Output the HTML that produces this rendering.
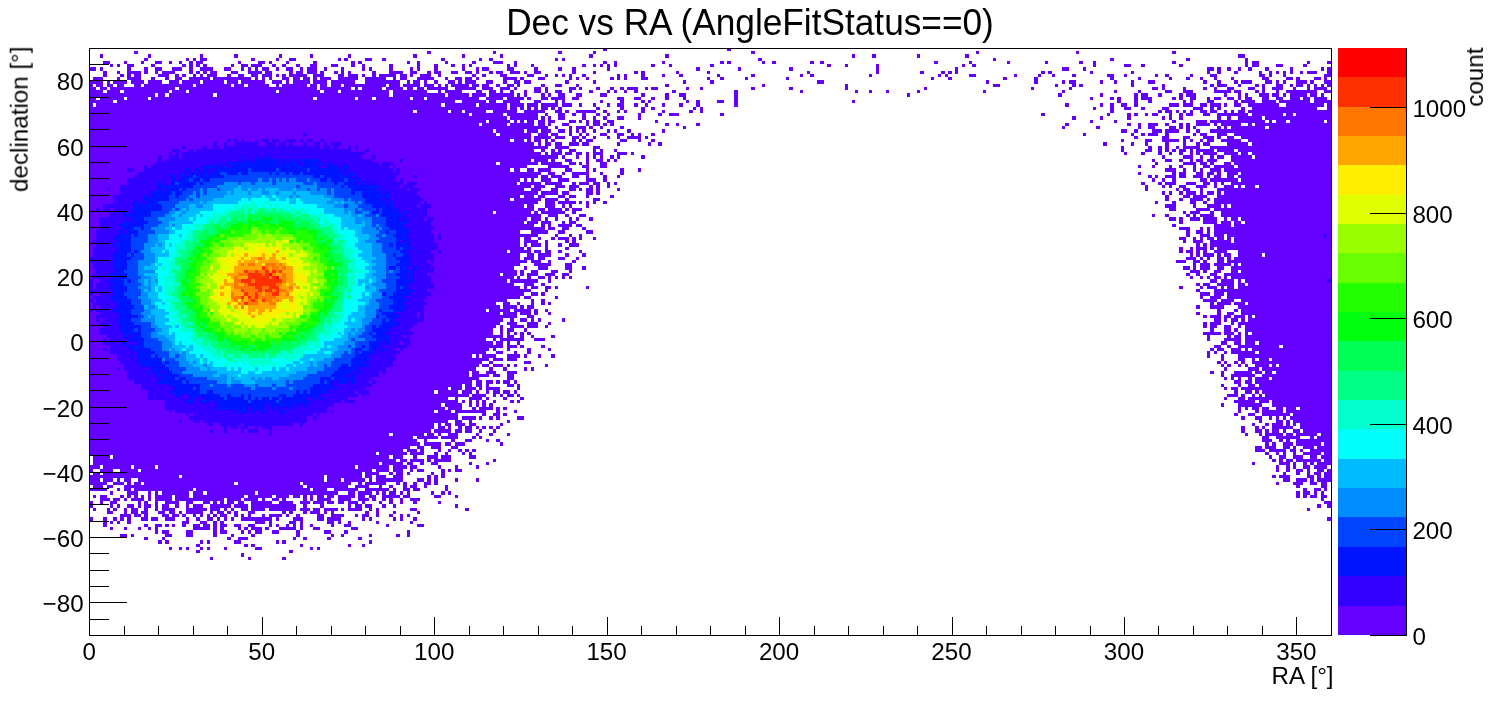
<!DOCTYPE html>
<html lang="en"><head><meta charset="utf-8"><title>Dec vs RA (AngleFitStatus==0)</title><style>html,body{margin:0;padding:0;background:#fff;overflow:hidden}svg{display:block}</style></head><body>
<svg width="1496" height="722" viewBox="0 0 1496 722">
<rect width="1496" height="722" fill="#fff"/>
<g fill="none" shape-rendering="crispEdges">
<path stroke="#6300ff" stroke-width="3" d="M603 49.5h4m120 0h4m-597 3h4m289 0h4m62 0h3m62 0h4m31 0h3m155 0h4m221 0h3m97 0h3m93 0h4m-1032 7h4m38 0h3m4 0h3m4 0h7m44 0h4m21 0h3m10 0h7m42 0h3m3 0h4m17 0h7m10 0h4m55 0h4m34 0h3m7 0h4m62 0h3m4 0h3m193 0h4m231 0h3m114 0h4m72 0h4m55 0h3m-1145 3h7m14 0h3m14 0h3m11 0h7m7 0h3m7 0h3m7 0h4m3 0h7m35 0h3m17 0h7m4 0h3m14 0h3m24 0h4m34 0h4m3 0h4m45 0h3m7 0h3m25 0h3m24 0h4m17 0h10m11 0h3m86 0h4m7 0h3m45 0h3m55 0h4m3 0h4m31 0h3m7 0h4m34 0h4m6 0h4m110 0h4m31 0h3m35 0h3m35 0h3m31 0h4m10 0h3m76 0h4m69 0h3m4 0h7m48 0h3m17 0h4m-1221 3h3m4 0h3m7 0h7m17 0h4m27 0h4m3 0h4m3 0h4m3 0h4m24 0h3m7 0h7m3 0h11m10 0h4m6 0h4m10 0h4m10 0h7m14 0h7m13 0h4m7 0h3m24 0h4m24 0h3m14 0h4m13 0h4m7 0h3m4 0h3m35 0h3m4 0h3m14 0h3m48 0h4m7 0h3m4 0h3m4 0h3m4 0h3m34 0h4m14 0h3m38 0h4m113 0h4m14 0h3m28 0h3m83 0h3m7 0h4m117 0h3m28 0h7m10 0h4m34 0h4m62 0h3m4 0h7m17 0h7m20 0h4m-1204 7h4m10 0h3m7 0h14m3 0h4m7 0h3m4 0h13m14 0h4m3 0h4m3 0h4m3 0h7m14 0h7m10 0h14m3 0h7m17 0h4m3 0h7m4 0h10m3 0h4m10 0h4m3 0h3m4 0h3m21 0h4m13 0h14m7 0h7m10 0h4m3 0h7m10 0h7m7 0h7m4 0h3m10 0h4m3 0h7m7 0h10m4 0h3m7 0h7m31 0h4m17 0h3m38 0h4m3 0h4m31 0h3m28 0h3m97 0h3m66 0h3m41 0h4m17 0h4m3 0h4m3 0h3m83 0h4m3 0h4m38 0h3m38 0h3m73 0h3m7 0h4m13 0h4m21 0h3m7 0h3m4 0h3m4 0h3m4 0h3m7 0h3m4 0h10m10 0h4m-1228 3h4m13 0h4m3 0h4m3 0h7m17 0h11m6 0h4m3 0h4m7 0h3m4 0h3m4 0h10m10 0h4m7 0h6m7 0h7m4 0h10m4 0h3m3 0h4m3 0h18m6 0h11m14 0h6m4 0h10m4 0h3m7 0h4m3 0h17m4 0h7m3 0h3m7 0h11m7 0h3m31 0h4m6 0h4m14 0h7m20 0h7m11 0h3m7 0h3m4 0h3m4 0h3m10 0h4m31 0h3m4 0h3m14 0h4m17 0h3m14 0h4m34 0h3m31 0h4m45 0h3m7 0h4m55 0h3m66 0h3m4 0h3m21 0h7m38 0h3m21 0h3m11 0h3m17 0h4m31 0h7m10 0h3m28 0h3m7 0h4m21 0h3m17 0h7m42 0h6m4 0h3m11 0h3m38 0h7m-1238 3h10m14 0h3m7 0h14m10 0h4m10 0h4m6 0h7m7 0h21m3 0h38m4 0h3m4 0h3m4 0h3m10 0h7m4 0h7m3 0h7m3 0h4m3 0h11m7 0h20m7 0h21m7 0h3m4 0h7m10 0h17m11 0h3m7 0h7m3 0h7m4 0h3m24 0h14m3 0h4m14 0h7m24 0h3m4 0h3m7 0h3m21 0h4m3 0h3m4 0h3m14 0h7m59 0h3m10 0h4m21 0h3m38 0h3m142 0h3m14 0h4m51 0h4m27 0h4m72 0h4m24 0h3m28 0h3m14 0h4m10 0h3m11 0h3m14 0h3m28 0h7m17 0h7m3 0h4m14 0h7m3 0h3m-1238 7h4m3 0h7m4 0h6m4 0h7m10 0h7m3 0h49m3 0h35m3 0h10m4 0h21m7 0h3m3 0h25m3 0h7m3 0h7m4 0h10m3 0h42m3 0h11m3 0h17m4 0h10m4 0h3m4 0h3m3 0h18m3 0h7m3 0h7m7 0h4m7 0h7m3 0h3m21 0h4m10 0h7m14 0h3m86 0h4m93 0h3m80 0h3m145 0h7m55 0h3m14 0h4m3 0h4m48 0h3m28 0h3m45 0h4m3 0h10m11 0h3m14 0h4m3 0h3m11 0h7m7 0h3m3 0h7m4 0h3m4 0h3m4 0h3m3 0h4m-1242 3h7m4 0h7m3 0h65m4 0h138m3 0h31m4 0h3m4 0h20m4 0h17m4 0h6m4 0h7m3 0h21m7 0h21m6 0h11m7 0h10m4 0h3m17 0h7m4 0h3m21 0h7m3 0h3m14 0h4m10 0h4m6 0h4m3 0h11m7 0h3m3 0h7m28 0h3m11 0h3m48 0h4m34 0h4m52 0h3m76 0h3m104 0h3m35 0h3m80 0h6m4 0h3m18 0h3m17 0h4m7 0h3m10 0h7m14 0h7m7 0h3m7 0h11m10 0h3m11 0h3m4 0h13m-1238 3h14m4 0h13m4 0h45m3 0h14m3 0h87m3 0h41m4 0h14m3 0h48m4 0h34m11 0h3m4 0h17m14 0h6m7 0h7m4 0h3m7 0h4m10 0h3m7 0h7m4 0h3m7 0h7m7 0h3m17 0h4m14 0h3m4 0h3m7 0h3m7 0h4m34 0h4m58 0h4m62 0h3m52 0h3m11 0h3m14 0h3m28 0h3m63 0h3m76 0h3m49 0h3m21 0h3m24 0h7m11 0h10m21 0h17m3 0h7m14 0h4m3 0h3m11 0h3m7 0h31m7 0h7m-1242 7h7m4 0h24m3 0h21m3 0h162m4 0h38m3 0h14m4 0h34m3 0h11m3 0h52m7 0h17m4 0h17m3 0h4m10 0h7m3 0h14m7 0h7m38 0h7m10 0h7m10 0h4m10 0h4m14 0h3m48 0h4m352 0h3m17 0h4m3 0h4m13 0h4m3 0h11m20 0h4m3 0h4m7 0h6m11 0h3m4 0h7m6 0h7m4 0h3m4 0h7m10 0h7m7 0h7m7 0h10m3 0h7m4 0h13m-1238 3h24m4 0h338m7 0h24m3 0h7m7 0h17m14 0h7m14 0h3m4 0h3m35 0h3m17 0h4m17 0h4m3 0h3m35 0h3m7 0h4m17 0h7m10 0h4m114 0h3m262 0h4m13 0h4m10 0h4m31 0h3m4 0h3m14 0h7m20 0h4m3 0h14m7 0h14m3 0h31m4 0h17m-1242 7h418m3 0h7m3 0h4m3 0h4m3 0h4m3 0h7m3 0h4m3 0h4m34 0h4m20 0h4m17 0h4m6 0h4m38 0h3m4 0h3m390 0h3m14 0h4m10 0h7m10 0h4m17 0h7m24 0h10m7 0h4m3 0h4m20 0h4m7 0h65m10 0h4m-1242 3h324m4 0h31m3 0h11m3 0h21m7 0h24m7 0h21m10 0h7m3 0h4m7 0h20m7 0h4m10 0h3m4 0h3m14 0h4m17 0h3m24 0h4m7 0h3m407 0h4m44 0h4m3 0h7m4 0h3m4 0h3m4 0h3m7 0h7m3 0h7m7 0h3m4 0h3m4 0h7m3 0h83m-1242 3h380m3 0h31m4 0h31m7 0h3m10 0h7m7 0h4m6 0h4m10 0h4m7 0h3m28 0h3m17 0h4m7 0h10m41 0h4m317 0h4m62 0h3m17 0h4m3 0h4m7 0h3m4 0h6m11 0h3m7 0h4m3 0h7m10 0h7m7 0h31m4 0h31m3 0h7m3 0h35m-1242 7h397m3 0h21m4 0h3m3 0h4m3 0h7m4 0h7m3 0h7m14 0h7m3 0h3m4 0h3m4 0h7m7 0h7m41 0h3m432 0h3m21 0h3m55 0h4m20 0h11m3 0h55m4 0h3m4 0h10m4 0h34m3 0h4m-1242 3h390m3 0h25m3 0h24m4 0h7m3 0h3m11 0h7m17 0h3m4 0h7m3 0h4m3 0h4m51 0h4m7 0h3m17 0h4m365 0h4m58 0h4m7 0h3m7 0h10m7 0h4m10 0h4m3 0h4m6 0h14m4 0h3m4 0h20m7 0h4m3 0h76m-1242 3h459m7 0h3m11 0h3m4 0h10m3 0h4m7 0h3m17 0h4m59 0h3m376 0h3m31 0h4m38 0h3m7 0h7m14 0h7m3 0h4m3 0h4m3 0h3m21 0h4m3 0h3m4 0h34m4 0h62m-1242 7h407m4 0h31m7 0h10m3 0h7m11 0h3m7 0h3m4 0h3m11 0h7m10 0h7m7 0h3m4 0h3m10 0h4m428 0h3m45 0h3m7 0h4m3 0h10m7 0h4m24 0h3m4 0h7m10 0h10m7 0h97m-1242 3h442m3 0h17m4 0h10m7 0h7m3 0h4m7 0h3m11 0h3m7 0h3m7 0h14m4 0h3m486 0h4m24 0h7m14 0h7m13 0h11m3 0h4m6 0h7m7 0h90m-1242 3h421m4 0h10m3 0h4m3 0h7m4 0h3m3 0h4m17 0h4m3 0h3m4 0h7m27 0h7m11 0h3m10 0h4m466 0h3m21 0h7m10 0h17m4 0h3m4 0h3m7 0h3m4 0h7m7 0h20m7 0h83m-1242 7h459m7 0h14m24 0h7m521 0h3m24 0h4m6 0h4m3 0h4m7 0h3m4 0h17m10 0h121m-1242 3h445m7 0h4m6 0h4m3 0h4m7 0h7m17 0h3m4 0h3m11 0h3m504 0h3m21 0h7m6 0h4m3 0h4m3 0h4m3 0h7m4 0h3m3 0h18m3 0h17m4 0h93m-1242 3h452m4 0h3m3 0h11m3 0h7m4 0h6m4 0h3m4 0h10m14 0h10m4 0h3m490 0h3m14 0h4m13 0h4m7 0h3m7 0h4m7 0h3m3 0h4m3 0h14m7 0h14m3 0h7m4 0h79m-1242 7h442m3 0h14m3 0h4m10 0h7m14 0h3m7 0h7m4 0h3m4 0h3m535 0h3m10 0h7m7 0h4m7 0h3m3 0h7m4 0h10m14 0h100m-1242 3h407m4 0h38m3 0h21m7 0h7m3 0h3m4 0h3m11 0h7m548 0h3m25 0h13m4 0h7m3 0h4m10 0h7m3 0h97m-1242 3h438m21 0h21m13 0h7m11 0h7m531 0h3m11 0h3m14 0h3m7 0h4m10 0h3m7 0h7m4 0h20m4 0h93m-1242 7h452m7 0h7m7 0h3m7 0h17m11 0h3m17 0h4m514 0h3m31 0h4m3 0h7m10 0h7m4 0h7m3 0h4m6 0h11m3 0h90m-1242 3h449m3 0h7m3 0h11m10 0h7m7 0h3m14 0h4m10 0h3m528 0h4m3 0h3m7 0h11m3 0h7m7 0h10m4 0h3m4 0h7m6 0h7m4 0h93m-1242 7h428m3 0h21m4 0h17m10 0h4m3 0h10m4 0h7m7 0h3m4 0h3m524 0h4m13 0h4m3 0h11m10 0h10m7 0h7m4 0h3m4 0h3m7 0h100m-1242 3h442m3 0h11m10 0h10m4 0h10m10 0h4m3 0h4m7 0h3m535 0h3m14 0h3m4 0h3m7 0h7m10 0h11m7 0h3m7 0h10m4 0h3m4 0h10m4 0h72m-1242 3h435m7 0h10m10 0h7m11 0h7m3 0h3m4 0h7m3 0h4m17 0h3m525 0h3m28 0h3m4 0h7m10 0h3m14 0h114m-1242 7h431m4 0h10m4 0h7m13 0h7m4 0h7m10 0h3m21 0h4m551 0h4m14 0h7m3 0h14m10 0h114m-1242 3h421m4 0h27m4 0h13m7 0h4m24 0h7m565 0h4m10 0h4m7 0h13m4 0h3m4 0h117m-1242 3h449m7 0h10m3 0h18m3 0h3m4 0h3m4 0h3m7 0h4m548 0h3m14 0h4m14 0h6m7 0h4m7 0h117m-1242 7h445m4 0h7m3 0h14m3 0h4m3 0h10m587 0h7m20 0h14m4 0h117m-1242 3h404m3 0h35m3 0h4m3 0h24m7 0h4m607 0h3m4 0h10m10 0h4m7 0h110m-1242 3h452m7 0h10m7 0h4m10 0h7m566 0h3m10 0h4m17 0h4m3 0h3m4 0h14m7 0h110m-1242 7h435m3 0h11m3 0h10m11 0h3m4 0h7m603 0h4m20 0h14m4 0h10m3 0h7m4 0h86m-1242 3h445m7 0h4m3 0h3m7 0h14m4 0h6m590 0h4m38 0h17m3 0h97m-1242 3h456m3 0h7m7 0h7m13 0h4m593 0h11m10 0h3m4 0h3m4 0h117m-1242 7h449m17 0h3m11 0h3m7 0h3m604 0h4m10 0h10m4 0h10m3 0h104m-1242 3h431m4 0h7m7 0h3m10 0h4m3 0h11m3 0h4m3 0h3m11 0h3m583 0h7m7 0h3m4 0h3m4 0h7m3 0h7m3 0h4m3 0h97m-1242 3h431m4 0h14m7 0h3m17 0h4m3 0h4m607 0h3m7 0h10m7 0h21m3 0h97m-1242 7h435m3 0h4m14 0h3m17 0h4m610 0h4m7 0h3m3 0h11m3 0h4m3 0h114m-1242 3h418m3 0h21m3 0h7m4 0h6m7 0h4m17 0h3m597 0h4m3 0h7m3 0h4m3 0h4m7 0h13m11 0h93m-1242 7h431m4 0h10m4 0h7m13 0h7m11 0h3m607 0h10m4 0h3m4 0h3m7 0h7m3 0h4m3 0h97m-1242 3h438m4 0h10m7 0h3m21 0h4m600 0h10m7 0h7m3 0h4m10 0h7m3 0h104m-1242 3h431m14 0h17m14 0h7m621 0h3m4 0h10m4 0h17m3 0h4m3 0h90m-1242 7h428m3 0h4m7 0h7m13 0h7m11 0h3m618 0h10m3 0h4m7 0h7m10 0h7m3 0h90m-1242 3h411m3 0h14m3 0h4m3 0h11m7 0h10m7 0h7m617 0h4m6 0h4m10 0h7m7 0h107m-1242 3h425m3 0h3m7 0h4m7 0h7m3 0h3m4 0h3m4 0h3m4 0h3m618 0h3m7 0h3m4 0h3m4 0h7m3 0h3m4 0h100m-1242 7h425m10 0h10m7 0h4m651 0h4m3 0h7m7 0h17m4 0h7m3 0h83m-1242 3h431m4 0h3m4 0h7m7 0h6m4 0h3m28 0h3m590 0h4m17 0h3m4 0h10m4 0h3m3 0h7m4 0h93m-1242 3h442m14 0h3m648 0h4m14 0h117m-1242 7h431m4 0h7m24 0h3m642 0h3m7 0h11m6 0h104m-1242 3h418m24 0h3m7 0h4m658 0h14m4 0h13m7 0h90m-1242 3h407m7 0h7m7 0h3m11 0h3m7 0h4m3 0h3m659 0h4m3 0h14m3 0h11m3 0h83m-1242 7h397m3 0h21m4 0h17m3 0h4m7 0h3m669 0h4m13 0h4m3 0h90m-1242 3h411m3 0h14m3 0h11m3 0h4m10 0h3m645 0h4m17 0h4m6 0h7m7 0h90m-1242 3h428m10 0h7m669 0h4m3 0h11m3 0h7m3 0h11m3 0h4m3 0h76m-1242 7h411m7 0h10m10 0h11m10 0h3m652 0h4m3 0h11m10 0h3m4 0h93m-1242 3h407m4 0h3m7 0h14m3 0h11m7 0h3m655 0h4m3 0h7m7 0h7m7 0h3m4 0h86m-1242 7h404m7 0h3m4 0h3m4 0h3m3 0h4m3 0h4m672 0h18m3 0h10m4 0h3m4 0h3m4 0h79m-1242 3h414m4 0h7m6 0h4m7 0h3m17 0h4m652 0h3m17 0h4m3 0h7m4 0h86m-1242 3h397m7 0h3m4 0h24m10 0h11m662 0h3m14 0h17m4 0h86m-1242 7h414m4 0h10m3 0h4m17 0h4m669 0h7m6 0h4m7 0h41m4 0h48m-1242 3h400m4 0h3m11 0h3m17 0h4m17 0h3m659 0h4m3 0h7m7 0h10m4 0h3m4 0h79m-1242 3h397m10 0h7m11 0h3m10 0h4m676 0h3m4 0h3m7 0h3m4 0h24m4 0h72m-1242 7h400m4 0h10m4 0h10m704 0h3m14 0h7m7 0h3m4 0h10m3 0h59m-1242 3h393m7 0h4m31 0h7m686 0h4m3 0h3m7 0h4m3 0h4m7 0h79m-1242 3h390m3 0h7m4 0h10m4 0h3m4 0h3m28 0h3m673 0h3m3 0h4m7 0h3m4 0h3m7 0h14m3 0h4m3 0h52m-1242 7h380m3 0h7m7 0h10m11 0h10m693 0h4m7 0h3m10 0h18m3 0h7m3 0h7m4 0h55m-1242 3h380m3 0h17m4 0h7m7 0h7m707 0h3m7 0h24m7 0h69m-1242 3h390m28 0h7m710 0h3m4 0h3m4 0h3m7 0h4m3 0h14m3 0h59m-1242 7h373m3 0h7m4 0h6m4 0h3m18 0h7m3 0h3m701 0h3m14 0h3m7 0h7m4 0h72m-1242 3h359m3 0h11m3 0h11m3 0h3m4 0h14m17 0h3m704 0h3m4 0h7m3 0h90m-1242 7h380m3 0h14m7 0h3m4 0h3m4 0h7m3 0h3m707 0h11m3 0h4m7 0h3m4 0h3m3 0h66m-1242 3h359m7 0h3m11 0h13m4 0h3m14 0h4m13 0h4m700 0h3m11 0h7m3 0h83m-1242 3h369m4 0h3m4 0h3m4 0h3m3 0h4m7 0h3m14 0h4m3 0h3m714 0h21m4 0h10m3 0h59m-1242 7h356m3 0h14m10 0h4m3 0h14m3 0h4m3 0h4m731 0h3m4 0h3m4 0h7m3 0h7m7 0h7m3 0h10m4 0h31m-1242 3h345m4 0h13m4 0h31m10 0h4m14 0h3m721 0h3m14 0h4m3 0h21m3 0h45m-1242 3h369m24 0h4m7 0h7m3 0h4m727 0h4m10 0h7m7 0h28m3 0h38m-1242 7h359m7 0h7m7 0h3m35 0h3m749 0h3m14 0h7m3 0h4m3 0h38m-1242 3h345m4 0h3m4 0h6m4 0h10m4 0h7m24 0h3m749 0h3m10 0h4m3 0h11m3 0h4m3 0h3m4 0h31m-1242 3h345m4 0h7m3 0h3m7 0h4m3 0h7m4 0h3m3 0h4m3 0h4m3 0h4m741 0h4m10 0h4m3 0h3m7 0h21m7 0h31m-1242 7h300m4 0h31m3 0h7m4 0h3m7 0h10m18 0h3m10 0h4m14 0h3m735 0h3m11 0h3m3 0h18m3 0h7m3 0h21m4 0h10m-1242 3h324m4 0h21m3 0h17m14 0h4m3 0h3m780 0h7m7 0h24m10 0h4m3 0h14m-1242 3h328m7 0h3m24 0h4m10 0h7m14 0h3m7 0h4m762 0h10m7 0h4m3 0h4m6 0h35m-1242 7h321m7 0h7m7 0h10m10 0h7m797 0h7m3 0h11m7 0h7m3 0h3m7 0h11m3 0h14m-1242 3h314m4 0h10m3 0h4m14 0h3m7 0h3m7 0h4m3 0h4m3 0h4m779 0h10m4 0h17m4 0h6m4 0h3m7 0h21m-1242 3h287m3 0h28m3 0h14m10 0h4m7 0h3m14 0h3m4 0h3m793 0h4m7 0h3m4 0h3m7 0h3m7 0h18m3 0h7m-1238 7h303m4 0h7m3 0h14m3 0h4m3 0h17m42 0h3m776 0h4m3 0h4m3 0h7m3 0h25m3 0h7m-1238 3h286m3 0h21m4 0h6m7 0h4m7 0h7m31 0h3m14 0h3m763 0h3m24 0h11m3 0h3m7 0h4m3 0h4m3 0h14m-1242 7h4m7 0h13m7 0h18m3 0h231m4 0h13m4 0h10m7 0h3m4 0h7m17 0h4m3 0h3m4 0h7m814 0h3m7 0h4m6 0h7m4 0h3m7 0h7m3 0h4m-1238 3h7m3 0h259m3 0h14m10 0h4m3 0h7m4 0h3m21 0h3m7 0h4m838 0h3m10 0h4m7 0h3m4 0h7m3 0h7m-1242 3h90m3 0h142m3 0h35m3 0h7m4 0h10m7 0h10m24 0h4m3 0h4m3 0h4m827 0h4m3 0h11m17 0h7m3 0h4m3 0h7m-1242 7h18m6 0h11m3 0h4m3 0h7m3 0h90m4 0h62m3 0h48m7 0h4m3 0h21m10 0h4m3 0h4m6 0h4m7 0h7m3 0h4m838 0h3m14 0h10m7 0h7m4 0h6m-1234 3h10m4 0h6m11 0h179m4 0h41m7 0h14m10 0h3m7 0h4m10 0h4m3 0h7m7 0h3m18 0h3m848 0h4m21 0h6m-1238 3h18m10 0h3m4 0h7m3 0h59m3 0h114m3 0h14m7 0h24m7 0h24m4 0h3m7 0h7m3 0h7m25 0h3m855 0h4m7 0h7m3 0h3m-1234 7h3m4 0h7m13 0h4m3 0h4m3 0h4m3 0h3m4 0h3m4 0h17m3 0h14m4 0h51m4 0h24m4 0h13m4 0h7m3 0h4m3 0h3m4 0h7m3 0h7m4 0h17m3 0h7m4 0h7m6 0h18m3 0h7m24 0h7m14 0h3m838 0h4m3 0h4m3 0h7m4 0h6m-1227 3h10m3 0h7m4 0h3m4 0h13m4 0h3m4 0h17m3 0h49m3 0h14m3 0h14m4 0h3m7 0h7m3 0h4m17 0h4m3 0h3m4 0h14m7 0h13m7 0h11m3 0h4m6 0h4m3 0h4m7 0h3m7 0h10m901 0h3m-1235 3h4m7 0h3m7 0h7m21 0h3m3 0h4m7 0h3m7 0h14m7 0h7m10 0h7m3 0h4m3 0h4m3 0h7m4 0h6m7 0h21m7 0h14m7 0h10m3 0h11m3 0h7m4 0h6m4 0h10m4 0h3m14 0h3m7 0h4m7 0h3m10 0h4m21 0h3m883 0h7m-1238 7h3m11 0h3m3 0h4m7 0h3m4 0h7m6 0h4m7 0h3m4 0h13m11 0h21m3 0h10m4 0h3m4 0h3m7 0h7m3 0h14m4 0h27m4 0h10m3 0h7m4 0h14m3 0h3m4 0h14m7 0h3m4 0h3m31 0h7m48 0h4m838 0h3m-1203 3h6m11 0h3m4 0h7m3 0h7m10 0h7m4 0h6m4 0h3m4 0h17m7 0h3m4 0h7m3 0h4m3 0h4m10 0h7m27 0h4m3 0h4m10 0h4m3 0h10m4 0h3m4 0h3m31 0h4m7 0h3m14 0h3m21 0h3m-300 3h11m3 0h7m3 0h4m14 0h7m3 0h7m3 0h4m7 0h3m4 0h3m4 0h3m3 0h4m3 0h7m7 0h4m3 0h3m4 0h3m11 0h3m4 0h13m4 0h3m7 0h4m17 0h7m7 0h13m11 0h3m4 0h7m7 0h3m10 0h4m7 0h3m4 0h3m-307 7h4m3 0h3m4 0h3m7 0h4m51 0h7m11 0h7m6 0h4m3 0h4m31 0h10m4 0h3m17 0h7m4 0h3m24 0h7m4 0h3m7 0h3m25 0h3m31 0h3m-310 3h4m37 0h4m7 0h7m3 0h4m3 0h3m7 0h4m7 0h7m3 0h7m3 0h4m3 0h7m7 0h7m7 0h7m14 0h3m4 0h3m7 0h3m4 0h3m4 0h3m7 0h3m18 0h3m10 0h7m35 0h3m28 0h7m-314 3h3m11 0h3m11 0h3m7 0h3m4 0h3m35 0h17m3 0h4m3 0h4m14 0h3m3 0h4m3 0h11m3 0h4m10 0h17m4 0h3m10 0h7m31 0h7m-238 7h7m4 0h3m31 0h7m14 0h7m20 0h4m14 0h3m17 0h4m41 0h4m31 0h3m7 0h3m25 0h3m24 0h4m7 0h3m-266 3h4m14 0h3m62 0h4m7 0h10m45 0h3m7 0h4m20 0h4m27 0h4m-166 7h4m44 0h4m3 0h4m45 0h3m45 0h3m11 0h3m-196 3h3m7 0h3m4 0h3m11 0h3m4 0h3m14 0h3m28 0h7m48 0h3m4 0h3m-124 3h4m89 0h4m-83 7h3m35 0h3m31 0h4"/>
<path stroke="#6300ff" stroke-width="4" d="M100 56h3m45 0h3m49 0h3m31 0h4m41 0h3m28 0h3m35 0h3m62 0h4m45 0h3m35 0h3m86 0h4m72 0h4m183 0h3m17 0h4m41 0h3m45 0h4m269 0h7m-1156 13h7m4 0h3m24 0h4m13 0h4m7 0h7m10 0h10m7 0h4m7 0h13m11 0h7m10 0h3m4 0h3m4 0h3m4 0h7m7 0h3m7 0h7m7 0h3m4 0h10m7 0h3m14 0h3m18 0h3m4 0h3m17 0h4m17 0h3m4 0h3m14 0h4m24 0h3m11 0h3m3 0h7m18 0h7m20 0h4m20 0h4m10 0h4m31 0h3m86 0h4m38 0h3m48 0h4m83 0h3m76 0h3m104 0h7m14 0h3m121 0h7m3 0h4m6 0h4m7 0h3m7 0h4m13 0h4m21 0h3m28 0h3m3 0h4m-1242 13h14m4 0h3m3 0h14m4 0h13m4 0h14m7 0h10m3 0h18m3 0h21m3 0h11m3 0h24m7 0h10m4 0h3m4 0h17m3 0h14m4 0h24m10 0h35m7 0h3m3 0h7m4 0h3m7 0h4m10 0h7m3 0h4m3 0h11m10 0h7m10 0h4m7 0h6m4 0h7m34 0h4m24 0h3m87 0h3m24 0h4m103 0h7m162 0h3m45 0h4m24 0h3m4 0h7m24 0h3m11 0h3m14 0h3m14 0h7m48 0h4m10 0h4m13 0h4m3 0h11m13 0h7m4 0h3m4 0h3m10 0h11m3 0h4m10 0h7m-1242 13h66m3 0h7m4 0h44m4 0h172m4 0h52m3 0h21m3 0h14m3 0h25m3 0h3m4 0h3m14 0h4m3 0h3m7 0h7m11 0h6m18 0h7m34 0h4m20 0h4m10 0h7m48 0h4m169 0h3m148 0h4m38 0h3m31 0h4m3 0h7m10 0h4m17 0h4m3 0h10m28 0h3m11 0h3m4 0h3m11 0h10m3 0h7m4 0h3m4 0h17m3 0h7m4 0h3m-1235 10h4m3 0h345m4 0h31m3 0h28m3 0h14m3 0h11m3 0h17m4 0h10m7 0h3m11 0h3m11 0h3m7 0h7m10 0h4m7 0h3m14 0h3m14 0h4m13 0h4m34 0h4m327 0h4m31 0h3m7 0h4m7 0h6m7 0h4m31 0h10m4 0h10m7 0h7m3 0h11m3 0h3m7 0h7m7 0h31m7 0h38m3 0h4m-1242 13h418m3 0h28m3 0h4m3 0h3m7 0h7m17 0h4m7 0h3m7 0h4m10 0h7m14 0h3m431 0h4m24 0h3m24 0h4m31 0h3m4 0h3m7 0h4m34 0h4m6 0h4m7 0h24m3 0h66m-1242 13h404m3 0h28m3 0h11m3 0h10m7 0h7m4 0h3m4 0h3m3 0h4m7 0h3m11 0h3m4 0h3m10 0h4m31 0h3m456 0h6m7 0h4m14 0h10m3 0h14m7 0h4m6 0h4m10 0h121m-1242 13h445m4 0h3m4 0h6m4 0h7m7 0h10m3 0h7m28 0h3m28 0h3m7 0h4m441 0h4m24 0h3m11 0h3m17 0h4m14 0h3m10 0h4m3 0h7m17 0h21m4 0h79m-1242 13h469m4 0h3m11 0h3m7 0h3m4 0h3m4 0h3m7 0h4m3 0h3m21 0h4m517 0h3m18 0h10m7 0h3m7 0h4m3 0h7m7 0h21m3 0h76m-1242 13h421m4 0h6m7 0h7m4 0h13m14 0h7m14 0h3m4 0h3m24 0h4m14 0h3m524 0h11m7 0h3m7 0h3m4 0h3m7 0h11m3 0h107m-1242 10h431m4 0h3m4 0h3m7 0h10m7 0h11m17 0h10m7 0h4m545 0h3m7 0h3m7 0h4m24 0h7m3 0h28m3 0h90m-1242 13h449m3 0h17m4 0h7m17 0h7m3 0h4m562 0h3m4 0h3m7 0h4m3 0h10m4 0h3m4 0h7m3 0h4m3 0h107m-1242 13h435m3 0h7m11 0h10m7 0h3m4 0h3m14 0h3m576 0h11m17 0h3m11 0h14m3 0h3m4 0h100m-1242 13h438m4 0h10m4 0h3m7 0h3m11 0h3m4 0h3m10 0h4m576 0h7m3 0h4m7 0h10m3 0h14m7 0h3m4 0h7m3 0h90m-1242 13h431m11 0h17m10 0h7m21 0h7m593 0h4m6 0h7m4 0h3m4 0h117m-1242 13h431m4 0h3m4 0h10m4 0h3m10 0h4m7 0h10m617 0h4m3 0h4m3 0h121m-1242 10h431m7 0h7m4 0h13m14 0h4m13 0h4m604 0h3m3 0h4m3 0h11m3 0h4m3 0h7m7 0h24m3 0h66m-1242 13h425m10 0h3m11 0h10m17 0h7m10 0h4m597 0h7m3 0h3m4 0h10m7 0h7m7 0h100m-1242 13h418m3 0h28m10 0h3m659 0h7m4 0h13m4 0h3m4 0h86m-1242 13h435m7 0h7m3 0h4m655 0h10m4 0h10m3 0h104m-1242 13h411m3 0h14m3 0h4m3 0h7m662 0h4m10 0h14m14 0h93m-1242 13h414m7 0h4m6 0h7m4 0h3m4 0h3m21 0h3m649 0h7m3 0h3m4 0h7m3 0h4m3 0h83m-1242 10h404m7 0h3m4 0h7m10 0h3m683 0h4m10 0h7m3 0h4m7 0h86m-1242 13h404m3 0h7m4 0h3m7 0h3m701 0h6m7 0h7m4 0h10m4 0h72m-1242 13h383m4 0h3m3 0h14m11 0h13m4 0h3m11 0h3m10 0h4m652 0h3m11 0h3m14 0h93m-1242 13h387m13 0h4m10 0h4m17 0h3m4 0h3m690 0h3m21 0h11m3 0h69m-1242 13h383m4 0h6m4 0h7m3 0h4m3 0h7m4 0h3m717 0h7m4 0h7m3 0h76m-1242 10h345m4 0h20m4 0h10m4 0h3m7 0h3m4 0h7m3 0h7m4 0h3m717 0h4m7 0h7m3 0h4m3 0h69m-1242 13h352m4 0h17m7 0h3m4 0h3m3 0h4m3 0h4m728 0h3m14 0h24m10 0h59m-1242 13h369m4 0h14m3 0h3m7 0h4m3 0h4m17 0h7m717 0h4m10 0h7m7 0h3m4 0h3m4 0h3m4 0h41m-1242 13h342m3 0h17m4 0h7m3 0h7m7 0h3m11 0h3m745 0h4m10 0h7m3 0h4m3 0h7m4 0h3m7 0h7m3 0h28m-1242 13h331m4 0h17m4 0h6m4 0h10m35 0h3m762 0h4m3 0h4m7 0h10m3 0h25m3 0h7m-1238 13h17m3 0h276m4 0h10m10 0h4m10 0h11m3 0h10m18 0h7m793 0h3m7 0h7m7 0h10m7 0h7m4 0h10m-1242 10h11m3 0h28m3 0h21m3 0h197m3 0h31m4 0h14m3 0h7m21 0h3m14 0h3m18 0h3m797 0h3m7 0h4m3 0h3m7 0h7m4 0h13m-1238 13h11m3 0h10m4 0h3m4 0h7m7 0h186m3 0h14m3 0h21m4 0h3m4 0h27m14 0h7m3 0h4m3 0h4m17 0h3m18 0h3m804 0h7m6 0h11m3 0h4m3 0h14m-1221 13h3m14 0h11m10 0h3m4 0h3m4 0h27m4 0h10m4 0h48m3 0h80m10 0h7m3 0h14m4 0h3m3 0h4m3 0h7m4 0h3m4 0h3m21 0h3m7 0h4m3 0h3m845 0h4m3 0h7m4 0h3m4 0h3m-1235 13h4m17 0h3m4 0h3m7 0h7m4 0h3m3 0h7m4 0h3m4 0h7m6 0h4m7 0h3m4 0h10m7 0h21m3 0h14m3 0h45m7 0h4m13 0h4m24 0h3m4 0h7m3 0h7m10 0h4m7 0h3m59 0h3m859 0h4m6 0h4m-1242 13h4m10 0h4m6 0h4m3 0h4m3 0h4m10 0h7m3 0h7m7 0h10m11 0h3m7 0h4m7 0h6m4 0h3m4 0h3m4 0h3m7 0h31m4 0h3m14 0h10m14 0h7m3 0h14m21 0h3m4 0h3m21 0h3m4 0h3m10 0h4m910 0h4m-1176 13h3m4 0h7m17 0h7m20 0h4m3 0h7m14 0h3m4 0h3m4 0h7m10 0h7m17 0h4m24 0h7m13 0h4m59 0h3m-252 10h4m3 0h4m31 0h3m4 0h3m24 0h7m35 0h3m3 0h4m83 0h3m-131 13h3"/>
<path stroke="#3300ff" stroke-width="3" d="M303 134.5h4m-80 6h4m3 0h4m3 0h3m11 0h3m4 0h7m3 0h7m7 0h10m4 0h3m4 0h6m7 0h4m-142 7h4m17 0h4m6 0h7m4 0h96m4 0h7m3 0h4m10 0h3m4 0h3m-186 3h7m10 0h4m3 0h155m14 0h4m-200 3h3m3 0h4m3 0h183m-207 7h4m3 0h207m28 0h3m-248 3h224m3 0h11m-249 3h4m3 0h238m4 0h3m-258 7h262m-266 3h262m17 0h4m-290 7h276m4 0h10m-297 3h280m3 0h10m-306 3h3m10 0h287m3 0h10m-307 7h307m-307 3h311m-311 3h307m4 0h3m-331 7h4m3 0h7m3 0h314m-317 3h317m-317 3h317m-327 7h331m-331 3h331m-331 3h334m-338 7h338m4 0h3m883 0h3m-1231 3h338m4 0h3m-348 3h341m-341 7h345m-345 3h338m7 0h3m-352 7h345m-345 3h338m4 0h3m-341 3h338m-335 7h338m-341 3h334m-334 3h338m-342 7h4m3 0h338m-345 3h4m3 0h338m-345 3h338m-334 7h334m-338 3h4m3 0h328m-331 3h334m-338 7h4m3 0h328m-324 3h317m3 0h4m-328 3h321m3 0h4m-324 7h317m-314 3h310m-313 7h313m-306 3h296m4 0h3m-307 3h4m3 0h300m-300 7h297m-304 3h4m3 0h286m4 0h3m-293 3h290m-283 7h279m-276 3h273m-269 3h269m-266 7h252m3 0h4m-259 3h252m-252 3h245m-231 7h231m-231 3h224m-217 7h210m4 0h3m-217 3h200m-183 3h176m3 0h11m-190 7h162m-158 3h3m3 0h152m4 0h3m-148 3h3m4 0h120m4 0h3m-141 7h3m11 0h7m3 0h104m-100 3h6m7 0h21m3 0h49m7 0h3m-79 3h3m4 0h7m3 0h7m7 0h3m4 0h10m-3 7h3"/>
<path stroke="#3300ff" stroke-width="4" d="M213 144h4m7 0h3m7 0h24m7 0h11m3 0h7m3 0h4m10 0h4m6 0h7m4 0h3m4 0h10m-183 13h4m7 0h10m3 0h180m10 0h4m-249 13h7m10 0h249m3 0h4m-273 10h269m4 0h3m-283 13h297m-314 13h314m3 0h11m-331 13h324m3 0h7m-338 13h335m-335 13h342m-345 10h341m-341 13h341m-345 13h4m7 0h331m896 0h4m-1242 13h4m7 0h331m-338 13h3m4 0h324m-328 13h4m3 0h321m-324 10h310m-307 13h297m3 0h7m-293 13h279m-279 13h3m4 0h262m-252 13h235m3 0h4m-228 10h207m3 0h11m-204 13h169m-145 13h118m6 0h4m-107 13h3m11 0h3m14 0h3m4 0h10m11 0h3"/>
<path stroke="#0014ff" stroke-width="4" d="M241 157h3m11 0h3m7 0h4m-83 13h3m7 0h4m3 0h7m3 0h128m3 0h4m-176 10h3m4 0h176m3 0h4m-211 13h231m4 0h3m-255 13h259m-262 13h269m3 0h4m-287 13h4m3 0h283m-297 13h4m3 0h290m-297 10h297m-297 13h294m6 0h4m-307 13h303m-300 13h297m-293 13h290m-290 13h276m-273 10h269m-265 13h3m11 0h244m4 0h3m-258 13h3m4 0h231m-218 13h207m-200 13h176m4 0h10m3 0h4m-183 10h155m-110 13h48m4 0h24m3 0h4m3 0h4"/>
<path stroke="#0014ff" stroke-width="3" d="M241 160.5h3m4 0h3m4 0h24m3 0h4m3 0h7m4 0h20m-103 3h3m7 0h52m3 0h18m3 0h14m3 0h4m3 0h4m-128 3h14m3 0h7m4 0h89m7 0h11m3 0h7m-166 7h4m3 0h7m4 0h7m3 0h134m4 0h7m-183 3h3m7 0h169m4 0h3m-200 7h4m10 0h186m4 0h3m4 0h3m-214 3h221m-221 3h4m3 0h211m3 0h3m-238 7h4m3 0h238m-245 3h238m4 0h3m-255 3h4m3 0h3m4 0h238m3 0h4m-259 7h259m3 0h4m-276 3h3m4 0h269m3 0h4m-283 3h279m-279 7h7m3 0h273m-287 3h283m-279 3h283m-290 7h290m-294 3h297m-293 3h283m3 0h7m-293 7h296m-296 3h290m10 0h3m-307 7h297m-297 3h297m-297 3h297m-293 7h296m-303 3h297m3 0h3m-300 3h294m3 0h3m-300 7h297m-300 3h297m-294 3h300m-303 7h293m-290 3h294m-290 3h286m-290 7h290m-286 3h279m-276 3h280m-280 7h280m-280 3h273m-269 7h262m-262 3h3m4 0h258m-262 3h262m-262 7h252m-248 3h245m3 0h7m-248 3h238m-238 7h231m-231 3h227m-224 3h228m-221 7h3m4 0h7m3 0h186m4 0h7m-207 3h193m3 0h4m-193 3h193m-186 7h165m-159 3h156m3 0h4m-163 7h7m7 0h131m-131 3h7m7 0h104m6 0h4m3 0h4m-138 3h7m7 0h10m3 0h97m-97 7h4m3 0h28m3 0h14m7 0h4m3 0h3m7 0h4m-55 3h10m3 0h4m7 0h3m14 0h7"/>
<path stroke="#0044ff" stroke-width="4" d="M248 170h3m25 0h3m28 0h3m-121 10h4m7 0h3m7 0h110m7 0h4m13 0h4m-176 13h3m7 0h169m4 0h7m-200 13h210m-228 13h242m-248 13h248m3 0h7m-265 13h258m4 0h3m-269 10h4m3 0h259m3 0h7m-276 13h262m7 0h4m-276 13h3m4 0h265m-272 13h258m4 0h7m-259 13h255m-258 13h251m4 0h3m-255 10h4m3 0h231m-228 13h225m-218 13h4m3 0h197m-186 13h169m-156 13h4m3 0h131m4 0h3m-127 10h7m6 0h83m4 0h3m4 0h3"/>
<path stroke="#0044ff" stroke-width="3" d="M220 173.5h7m11 0h3m7 0h21m3 0h4m3 0h7m3 0h4m7 0h3m-110 3h3m28 0h89m7 0h4m-149 7h4m17 0h4m3 0h131m4 0h6m-151 3h148m3 0h4m-169 3h3m4 0h165m-182 7h6m4 0h183m-193 3h196m-207 3h207m-203 7h214m3 0h3m-231 3h221m7 0h3m-231 3h228m-231 7h238m-242 3h242m-252 3h7m3 0h245m-258 7h3m4 0h255m-262 3h265m-265 3h265m-265 7h265m4 0h3m-272 3h3m4 0h262m-269 7h265m-269 3h273m-273 3h269m-272 7h276m-273 3h269m-269 3h273m-276 7h272m-269 3h269m4 0h3m-276 3h269m-269 7h262m-258 3h262m-262 3h262m-262 7h248m3 0h11m-262 3h251m-244 3h238m3 0h7m-252 7h248m-241 3h231m4 0h3m-238 7h228m3 0h4m-235 3h231m-228 3h232m-232 7h218m3 0h4m-218 3h204m7 0h7m-214 3h200m3 0h4m-200 7h189m-189 3h3m4 0h182m-186 3h176m7 0h3m-179 7h162m-155 3h152m-156 3h4m7 0h134m11 0h3m-134 7h113m-120 3h3m4 0h110m-90 7h7m4 0h10m3 0h4m3 0h28m7 0h7m-69 3h3m17 0h4m3 0h4m3 0h4m7 0h3m7 0h3m-34 3h3m25 0h3"/>
<path stroke="#008bff" stroke-width="4" d="M258 180h4m7 0h3m4 0h3m3 0h4m3 0h7m11 0h3m-117 13h3m4 0h3m4 0h120m4 0h3m-159 13h169m4 0h10m-200 13h214m-217 13h224m-235 13h238m-238 10h242m-248 13h248m-248 13h244m-241 13h241m-238 13h235m-238 13h231m-217 10h210m-203 13h193m-186 13h6m4 0h162m-155 13h138m-107 13h69m3 0h4"/>
<path stroke="#008bff" stroke-width="3" d="M224 183.5h14m3 0h10m4 0h17m4 0h27m10 0h4m-100 3h79m4 0h17m-117 3h3m4 0h10m3 0h87m3 0h7m3 0h7m4 0h3m-145 7h7m4 0h134m-148 3h3m4 0h151m4 0h3m-172 3h176m3 0h4m-190 7h3m4 0h176m3 0h4m-193 3h186m7 0h7m-204 3h200m11 0h3m-217 7h210m-214 3h214m4 0h3m-228 3h225m3 0h3m-234 7h228m6 0h4m-238 3h231m-231 3h228m-232 7h238m-241 3h241m-238 7h242m-248 3h248m-248 3h248m-248 7h248m3 0h4m-255 3h248m-245 3h245m-245 7h245m-248 3h248m-245 3h238m-241 7h244m-241 3h235m-235 3h238m-235 7h232m-235 3h235m-232 3h232m-225 7h218m-218 3h214m-214 7h211m-211 3h207m-200 3h193m4 0h10m-203 7h186m3 0h4m-193 3h189m-182 3h175m4 0h3m-189 7h3m10 0h159m-155 3h152m-152 3h145m3 0h4m-149 7h135m-124 3h114m-100 3h96m-93 7h3m14 0h4m13 0h11m3 0h14m4 0h10m-35 3h4m17 0h4m13 0h4"/>
<path stroke="#00bbff" stroke-width="3" d="M238 186.5h3m-7 3h7m7 0h3m7 0h4m3 0h14m14 0h3m-72 7h65m4 0h3m4 0h24m-111 3h118m-131 3h3m4 0h120m7 0h4m3 0h3m-162 7h4m3 0h155m-169 3h7m4 0h158m4 0h3m-179 3h7m3 0h169m7 0h4m-193 7h186m7 0h3m-196 3h3m3 0h190m-200 3h197m-204 7h211m-211 3h211m-211 3h207m-214 7h221m-221 3h221m-217 7h221m-221 3h217m-221 3h225m-221 7h221m-232 3h228m-221 3h225m-232 7h4m3 0h221m-221 3h214m4 0h7m-232 3h4m3 0h225m-228 7h224m-221 3h218m-218 3h218m-218 7h214m-214 3h214m-217 3h3m4 0h210m-210 7h207m-204 3h204m-204 7h190m3 0h4m-190 3h183m-179 3h179m-176 7h166m-169 3h3m3 0h163m-159 3h3m4 0h148m-148 7h138m-135 3h4m3 0h114m3 0h4m-124 3h10m4 0h103m3 0h4m-100 7h79m-83 3h7m7 0h62m-62 3h4m3 0h17m4 0h3m4 0h3m7 0h7"/>
<path stroke="#00bbff" stroke-width="4" d="M227 193h4m3 0h14m3 0h11m7 0h7m3 0h14m3 0h14m-121 13h7m7 0h131m-159 13h180m-186 13h193m-207 13h3m4 0h210m-217 10h217m-228 13h228m-228 13h4m3 0h4m3 0h218m-228 13h224m-228 13h4m7 0h210m-210 13h207m-200 10h189m4 0h3m-186 13h172m-158 13h145m-131 13h7m3 0h97m-80 13h4m10 0h14"/>
<path stroke="#00fffc" stroke-width="3" d="M262 196.5h3m7 0h4m-35 3h7m3 0h18m7 0h3m7 0h3m7 0h4m-62 3h51m7 0h7m-90 7h111m-124 3h124m-128 3h4m3 0h131m-141 7h148m-159 3h159m-169 3h3m7 0h159m3 0h4m-179 7h10m3 0h173m-186 3h189m-193 3h193m-193 7h193m-196 3h3m4 0h193m-204 7h204m-204 3h207m-210 3h3m4 0h207m-214 7h214m-211 3h207m-207 3h207m-207 7h200m4 0h3m-210 3h3m4 0h203m-210 3h3m4 0h203m-207 7h204m-200 3h196m-203 3h7m3 0h200m-200 7h193m-189 3h182m-186 3h183m-183 7h179m-172 3h3m4 0h169m-179 7h3m3 0h163m3 0h3m-169 3h166m-166 3h159m-148 7h3m4 0h131m3 0h4m-149 3h4m7 0h127m-131 3h128m7 0h7m-131 7h3m4 0h93m10 0h3m-113 3h3m4 0h3m3 0h80m7 0h3m-90 3h73m7 0h3m-55 7h7m7 0h7m-24 3h3"/>
<path stroke="#00fffc" stroke-width="4" d="M213 206h104m-128 13h4m3 0h145m-166 13h180m-190 13h4m3 0h183m-186 10h189m-200 13h207m-207 13h200m11 0h3m-214 13h204m3 0h4m-211 13h200m-189 13h179m3 0h4m-186 10h175m-169 13h4m3 0h142m-128 13h4m3 0h100m-76 13h4m3 0h4m3 0h14m3 0h14m4 0h3m7 0h3"/>
<path stroke="#00ffcc" stroke-width="3" d="M251 202.5h4m10 0h4m-42 7h4m3 0h52m3 0h7m4 0h3m4 0h3m-97 3h4m7 0h83m-94 3h104m3 0h4m-117 7h113m4 0h7m-138 3h141m-148 3h3m7 0h142m-152 7h158m-165 3h3m4 0h158m-162 3h166m-173 7h176m-176 3h180m-183 7h183m-190 3h4m3 0h183m-186 3h186m-186 7h193m-193 3h179m3 0h4m-190 3h190m-190 7h4m3 0h183m-190 3h186m-186 3h186m-179 7h179m-186 3h179m-172 3h172m-175 7h175m-169 3h169m-172 3h172m-172 7h3m4 0h159m-156 3h152m-141 7h138m-142 3h131m4 0h3m-134 3h127m-120 7h110m3 0h7m-117 3h104m3 0h3m-103 3h83m3 0h7m-103 7h3m4 0h3m7 0h3m7 0h45m14 0h7m-66 3h4m3 0h4m3 0h3m4 0h24m4 0h3m-55 3h3m24 0h7m4 0h3m7 0h4"/>
<path stroke="#00ffcc" stroke-width="4" d="M234 206h4m3 0h17m4 0h3m4 0h3m4 0h3m7 0h3m-82 13h113m4 0h3m-138 13h149m-163 13h173m-179 10h3m3 0h176m-189 13h3m4 0h186m-190 13h4m3 0h183m-190 13h186m-182 13h175m-169 13h166m-162 10h152m3 0h4m-142 13h124m-107 13h83m4 0h3"/>
<path stroke="#00ff85" stroke-width="3" d="M241 209.5h3m4 0h3m7 0h7m7 0h4m3 0h3m-51 3h13m4 0h3m4 0h34m7 0h4m-73 3h69m4 0h10m-100 7h3m4 0h100m-114 3h117m11 0h3m-131 3h128m-138 7h145m-145 3h141m-148 3h3m4 0h141m4 0h6m-158 7h158m-165 3h165m-169 7h173m-173 3h176m-176 3h173m-176 7h179m-176 3h173m-173 3h173m-169 7h169m-173 3h173m-173 3h169m4 0h3m-176 7h169m4 0h3m-172 3h165m-172 3h169m-162 7h162m-162 3h155m-155 3h3m4 0h152m-156 7h4m7 0h131m3 0h4m-145 3h138m-131 7h124m-121 3h121m-124 3h3m7 0h114m-104 7h87m-83 3h76m-76 3h3m4 0h58m7 0h4m-66 7h4"/>
<path stroke="#00ff85" stroke-width="4" d="M220 219h7m4 0h82m4 0h3m-127 13h141m-148 13h155m-159 10h162m-165 13h169m-173 13h173m-176 13h172m-169 13h166m-159 13h149m-138 10h131m-121 13h4m3 0h97m-83 13h3m7 0h7m7 0h17m4 0h7"/>
<path stroke="#00ff55" stroke-width="3" d="M258 212.5h4m-21 3h3m4 0h34m4 0h3m-62 7h69m4 0h10m-97 3h7m4 0h89m-100 3h104m-117 7h127m-127 3h134m-141 3h3m4 0h134m-141 7h145m-149 3h145m-148 7h155m-162 3h165m-162 3h162m-162 7h162m-165 3h159m3 0h3m-165 3h165m-162 7h162m-165 3h159m-159 3h159m-159 7h159m-156 3h156m-156 3h152m-148 7h145m-142 3h138m-138 3h138m-134 7h131m-131 3h124m-117 7h3m4 0h106m-106 3h103m-100 3h97m-94 7h4m3 0h73m-66 3h4m3 0h48m4 0h3m-45 3h7m4 0h3m4 0h3m7 0h4"/>
<path stroke="#00ff55" stroke-width="4" d="M231 219h7m3 0h3m4 0h45m3 0h4m-97 13h4m6 0h111m-131 13h138m-142 10h152m-159 13h159m3 0h4m-169 13h165m-165 13h162m-155 13h148m-145 13h135m-128 10h117m-96 13h76m3 0h4"/>
<path stroke="#00ff0e" stroke-width="4" d="M248 219h3m11 0h10m7 0h3m-62 13h97m-114 13h124m-134 10h138m-142 13h145m-152 13h4m3 0h149m-156 13h149m-142 13h142m-135 13h124m-117 10h107m-79 13h41m4 0h3"/>
<path stroke="#00ff0e" stroke-width="3" d="M238 222.5h3m7 0h14m3 0h4m10 0h14m-62 3h62m-76 3h3m7 0h69m4 0h7m-94 7h104m-110 3h110m3 0h4m-124 3h117m10 0h4m-135 7h135m-138 3h3m4 0h127m-138 7h138m4 0h3m-141 3h141m-145 3h152m-155 7h152m-152 3h152m-152 3h152m-156 7h156m-152 3h148m-148 3h148m-145 7h149m-145 3h134m4 0h3m-148 3h148m-141 7h134m-131 3h124m4 0h3m-131 3h124m-124 7h4m3 0h114m-117 3h3m4 0h106m-100 7h87m-83 3h76m7 0h3m-86 3h7m3 0h69m-65 7h3m7 0h7m7 0h17m-31 3h3m7 0h4m3 0h7"/>
<path stroke="#22ff00" stroke-width="3" d="M258 222.5h4m-18 3h4m3 0h4m7 0h7m7 0h3m-52 3h4m10 0h7m3 0h35m7 0h3m-76 7h11m3 0h79m-100 3h100m-103 3h7m3 0h97m-114 7h117m4 0h3m-124 3h124m-134 7h3m4 0h127m-131 3h131m-138 3h4m3 0h131m-131 7h131m-138 3h135m7 0h3m-141 3h134m7 0h4m-149 7h142m-142 3h142m-138 3h138m-138 7h138m-135 3h128m-128 3h128m-124 7h120m-120 3h117m-117 3h110m-103 7h96m4 0h10m-110 3h93m3 0h4m-83 7h55m3 0h4m10 0h4m-76 3h58m4 0h7m-62 3h51m-27 7h3"/>
<path stroke="#22ff00" stroke-width="4" d="M231 232h58m7 0h11m-97 13h107m-117 10h124m-128 13h138m-145 13h138m4 0h3m-148 13h3m4 0h131m-131 13h7m3 0h121m-114 13h103m-100 10h83m-48 13h7m14 0h3m4 0h3"/>
<path stroke="#69ff00" stroke-width="3" d="M251 228.5h7m21 0h3m-62 7h4m20 0h49m-66 3h69m-76 3h69m4 0h3m4 0h3m-93 7h93m4 0h6m-100 3h100m-106 7h106m4 0h3m-117 3h4m3 0h110m-117 3h121m-124 7h124m-124 3h124m-128 3h128m-124 7h124m-128 3h131m-127 3h120m-120 7h124m-124 3h117m3 0h4m-124 3h113m-110 7h4m3 0h107m-110 3h3m3 0h97m-103 3h93m7 0h3m-90 7h80m-80 3h69m4 0h3m-69 7h4m3 0h45m3 0h4m-45 3h10m4 0h10m4 0h13m-31 3h4m7 0h3"/>
<path stroke="#69ff00" stroke-width="4" d="M231 232h3m17 0h11m3 0h4m7 0h3m-66 13h7m4 0h86m-107 10h4m3 0h110m-120 13h127m4 0h3m-138 13h131m-131 13h124m-117 13h110m-103 13h97m-90 10h3m4 0h65m4 0h3"/>
<path stroke="#99ff00" stroke-width="4" d="M251 232h4m-21 13h7m3 0h56m-80 10h90m-100 13h107m-117 13h124m-114 13h110m-110 13h93m4 0h3m-90 13h76m-62 10h14m3 0h11m3 0h11"/>
<path stroke="#99ff00" stroke-width="3" d="M258 235.5h4m3 0h7m-34 3h3m14 0h21m6 0h11m-62 3h58m-69 7h83m-90 3h94m-100 7h3m3 0h94m3 0h3m-100 3h97m-100 3h107m-110 7h110m-117 3h3m4 0h117m-121 3h114m-114 7h110m7 0h4m-124 3h120m-120 3h7m3 0h107m-110 7h110m-110 3h103m-103 3h103m-100 7h100m-103 3h3m3 0h90m4 0h3m-97 3h87m-80 7h4m10 0h45m3 0h4m-55 3h3m7 0h48m-55 7h4m3 0h3m7 0h7m11 0h3m-31 3h3"/>
<path stroke="#e0ff00" stroke-width="3" d="M276 241.5h3m3 0h7m-55 7h10m4 0h34m4 0h3m-62 3h69m4 0h3m-86 7h83m-83 3h86m-83 3h90m-93 7h93m3 0h4m-110 3h3m3 0h97m-100 3h97m-100 7h3m7 0h93m-103 3h3m7 0h86m4 0h3m3 0h4m-104 3h97m-100 7h90m3 0h4m-94 3h94m-90 3h83m3 0h4m-97 7h3m4 0h14m3 0h69m-83 3h66m3 0h4m3 0h7m-79 3h3m4 0h62m3 0h4m-66 7h7m3 0h25m3 0h7m-38 3h3m4 0h3m4 0h10"/>
<path stroke="#e0ff00" stroke-width="4" d="M244 245h21m4 0h3m4 0h6m-55 10h4m3 0h55m4 0h14m-97 13h3m7 0h83m-90 13h94m6 0h4m-104 13h94m3 0h3m-93 13h7m4 0h72m-76 13h4m7 0h34m4 0h6"/>
<path stroke="#ffee00" stroke-width="4" d="M269 245h3m-38 10h7m3 0h32m6 0h4m-55 13h65m-72 13h72m4 0h7m-90 13h79m-62 13h48m7 0h7m-41 13h7m3 0h4"/>
<path stroke="#ffee00" stroke-width="3" d="M234 248.5h4m20 0h7m7 0h10m-38 3h4m7 0h10m11 0h3m-52 7h4m3 0h52m7 0h3m-72 3h3m4 0h58m-62 3h62m4 0h7m-83 7h7m3 0h69m-76 3h83m-76 3h80m-90 7h79m-76 3h80m7 0h3m-97 3h4m3 0h76m4 0h3m4 0h3m-97 7h4m3 0h76m-76 3h4m3 0h59m3 0h7m-69 3h55m4 0h10m-58 7h51m4 0h3m-65 3h3m7 0h38m-38 3h3m4 0h10m4 0h3m4 0h7m3 0h3m4 0h3"/>
<path stroke="#ffa700" stroke-width="3" d="M276 251.5h3m-38 7h3m7 0h14m4 0h7m6 0h4m-48 3h3m3 0h11m3 0h21m-41 3h24m3 0h21m-52 7h59m-66 3h66m-62 3h62m-69 7h62m3 0h7m-76 3h4m7 0h62m3 0h4m-69 3h62m-62 7h62m-62 3h7m3 0h41m7 0h4m-66 3h4m7 0h38m-28 7h7m3 0h7m4 0h3m-24 3h3m7 0h4m-11 3h4"/>
<path stroke="#ffa700" stroke-width="4" d="M244 255h4m14 0h3m7 0h4m-42 13h59m-69 13h3m7 0h59m-73 13h4m7 0h58m-55 13h4m3 0h3m4 0h28"/>
<path stroke="#ff7700" stroke-width="3" d="M258 258.5h4m-21 6h3m4 0h7m10 0h11m3 0h3m-38 7h25m3 0h10m-44 3h38m6 0h4m-52 3h4m10 0h31m3 0h4m-52 7h4m6 0h38m-48 3h45m10 0h4m-52 3h45m-55 7h13m4 0h28m-42 3h4m3 0h3m4 0h10m4 0h10m4 0h3m-41 3h3m3 0h14m11 0h7"/>
<path stroke="#ff7700" stroke-width="4" d="M262 268h7m3 0h7m3 0h4m-52 13h52m-55 13h3m10 0h18m3 0h14m7 0h3m-48 13h3"/>
<path stroke="#ff3000" stroke-width="4" d="M262 268h3m-24 13h10m4 0h27m-38 13h4m7 0h3m14 0h7"/>
<path stroke="#ff3000" stroke-width="3" d="M244 271.5h4m7 0h3m7 0h4m3 0h4m3 0h3m-34 3h14m3 0h7m-24 3h21m3 0h7m-31 7h28m-21 3h7m7 0h10m-38 3h3m14 0h4m3 0h7m4 0h3m-38 7h3m4 0h3m4 0h3m-7 3h4m7 0h3m-21 3h4"/>
<path stroke="#ff0000" stroke-width="3" d="M269 274.5h3m4 3h3"/>
</g>
<g shape-rendering="crispEdges">
<rect x="1338" y="606" width="69" height="29" fill="#6300ff"/>
<rect x="1338" y="576" width="69" height="30" fill="#3300ff"/>
<rect x="1338" y="547" width="69" height="29" fill="#0014ff"/>
<rect x="1338" y="517" width="69" height="30" fill="#0044ff"/>
<rect x="1338" y="488" width="69" height="29" fill="#008bff"/>
<rect x="1338" y="459" width="69" height="29" fill="#00bbff"/>
<rect x="1338" y="429" width="69" height="30" fill="#00fffc"/>
<rect x="1338" y="400" width="69" height="29" fill="#00ffcc"/>
<rect x="1338" y="371" width="69" height="29" fill="#00ff85"/>
<rect x="1338" y="341" width="69" height="30" fill="#00ff55"/>
<rect x="1338" y="312" width="69" height="29" fill="#00ff0e"/>
<rect x="1338" y="283" width="69" height="29" fill="#22ff00"/>
<rect x="1338" y="253" width="69" height="30" fill="#69ff00"/>
<rect x="1338" y="224" width="69" height="29" fill="#99ff00"/>
<rect x="1338" y="195" width="69" height="29" fill="#e0ff00"/>
<rect x="1338" y="165" width="69" height="30" fill="#ffee00"/>
<rect x="1338" y="136" width="69" height="29" fill="#ffa700"/>
<rect x="1338" y="107" width="69" height="29" fill="#ff7700"/>
<rect x="1338" y="77" width="69" height="30" fill="#ff3000"/>
<rect x="1338" y="48" width="69" height="29" fill="#ff0000"/>
</g>
<path d="M89.5 48.5H1331.5V635.5H89.5ZM89.5 635.5v-19M124.5 635.5v-10M158.5 635.5v-10M193.5 635.5v-10M227.5 635.5v-10M262.5 635.5v-19M296.5 635.5v-10M331.5 635.5v-10M365.5 635.5v-10M400.5 635.5v-10M434.5 635.5v-19M469.5 635.5v-10M503.5 635.5v-10M538.5 635.5v-10M572.5 635.5v-10M607.5 635.5v-19M641.5 635.5v-10M676.5 635.5v-10M710.5 635.5v-10M745.5 635.5v-10M779.5 635.5v-19M814.5 635.5v-10M848.5 635.5v-10M883.5 635.5v-10M917.5 635.5v-10M952.5 635.5v-19M986.5 635.5v-10M1021.5 635.5v-10M1055.5 635.5v-10M1090.5 635.5v-10M1124.5 635.5v-19M1158.5 635.5v-10M1193.5 635.5v-10M1227.5 635.5v-10M1262.5 635.5v-10M1296.5 635.5v-19M1331.5 635.5v-10M89.0 619.5h20M89.0 602.5h38M89.0 586.5h20M89.0 570.5h20M89.0 553.5h20M89.0 537.5h38M89.0 521.5h20M89.0 504.5h20M89.0 488.5h20M89.0 472.5h38M89.0 455.5h20M89.0 439.5h20M89.0 423.5h20M89.0 407.5h38M89.0 390.5h20M89.0 374.5h20M89.0 358.5h20M89.0 341.5h38M89.0 325.5h20M89.0 309.5h20M89.0 292.5h20M89.0 276.5h38M89.0 260.5h20M89.0 243.5h20M89.0 227.5h20M89.0 211.5h38M89.0 195.5h20M89.0 178.5h20M89.0 162.5h20M89.0 146.5h38M89.0 129.5h20M89.0 113.5h20M89.0 97.5h20M89.0 80.5h38M89.0 64.5h20M1406.5 48.0V636.0M1407.0 635.5h-37M1407.0 529.5h-37M1407.0 424.5h-37M1407.0 318.5h-37M1407.0 213.5h-37M1407.0 107.5h-37" fill="none" stroke="#000" stroke-width="1" shape-rendering="crispEdges"/>
<g font-family="'Liberation Sans', Arial, Helvetica, sans-serif" fill="#000" opacity="0.999">
<text transform="translate(750,35) scale(1,1.06)" font-size="35.25" text-anchor="middle">Dec vs RA (AngleFitStatus==0)</text>
<g font-size="24.2">
<text x="89.3" y="659.5" text-anchor="middle">0</text>
<text x="261.7" y="659.5" text-anchor="middle">50</text>
<text x="434.2" y="659.5" text-anchor="middle">100</text>
<text x="606.6" y="659.5" text-anchor="middle">150</text>
<text x="779.1" y="659.5" text-anchor="middle">200</text>
<text x="951.5" y="659.5" text-anchor="middle">250</text>
<text x="1124.0" y="659.5" text-anchor="middle">300</text>
<text x="1296.4" y="659.5" text-anchor="middle">350</text>
<text x="83.6" y="611.7" text-anchor="end">−80</text>
<text x="83.6" y="546.7" text-anchor="end">−60</text>
<text x="83.6" y="481.7" text-anchor="end">−40</text>
<text x="83.6" y="416.7" text-anchor="end">−20</text>
<text x="83.6" y="350.7" text-anchor="end">0</text>
<text x="83.6" y="285.7" text-anchor="end">20</text>
<text x="83.6" y="220.7" text-anchor="end">40</text>
<text x="83.6" y="155.7" text-anchor="end">60</text>
<text x="83.6" y="89.7" text-anchor="end">80</text>
<text x="1412.4" y="644.6">0</text>
<text x="1412.4" y="538.6">200</text>
<text x="1412.4" y="433.6">400</text>
<text x="1412.4" y="327.6">600</text>
<text x="1412.4" y="222.6">800</text>
<text x="1412.4" y="116.6">1000</text>
<text x="1333.6" y="683.8" text-anchor="end">RA [°]</text>
<text transform="translate(27.7,46.5) rotate(-90)" text-anchor="end">declination [°]</text>
<text transform="translate(1483,47.5) rotate(-90)" text-anchor="end">count</text>
</g></g>
</svg>
</body></html>
